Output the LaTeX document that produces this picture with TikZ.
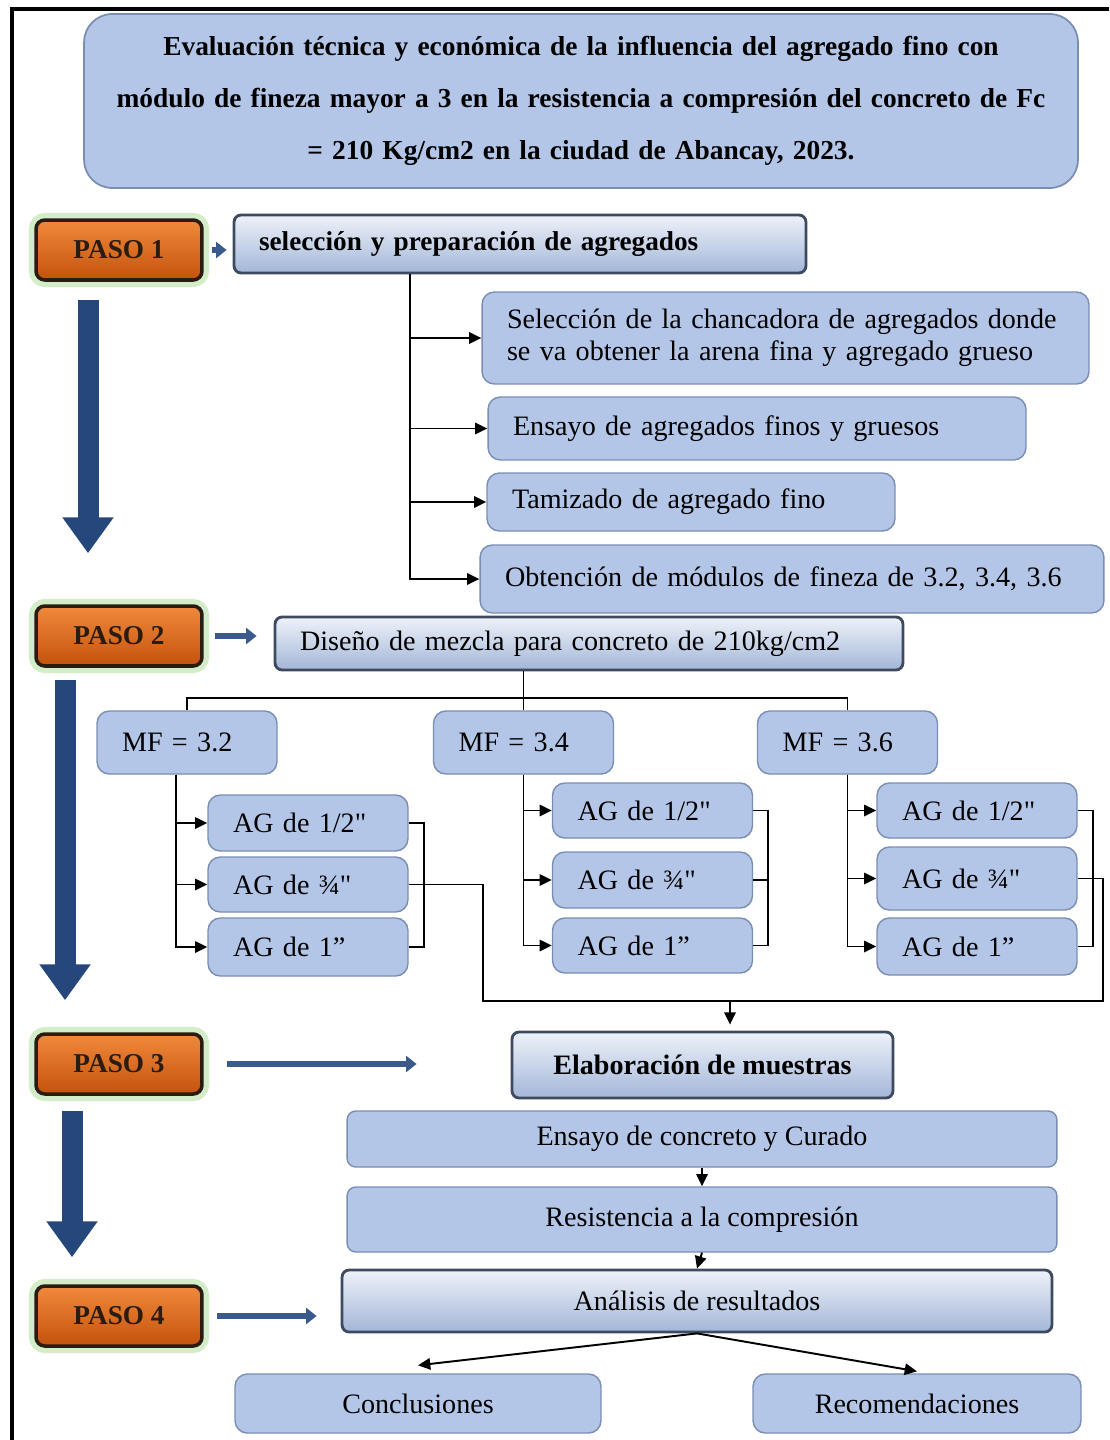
\documentclass[tikz,border=0pt]{standalone}
\usepackage{fontspec}
\setmainfont{Liberation Serif}
\usepackage{tikz}
\usetikzlibrary{arrows.meta,calc}

\definecolor{boxblue}{HTML}{B4C6E7}
\definecolor{boxedge}{HTML}{7A8DB3}
\definecolor{bevhi}{HTML}{EEF2F9}
\definecolor{bevlo}{HTML}{A3B6D8}
\definecolor{bevedge}{HTML}{3E4A60}
\definecolor{pasohi}{HTML}{F08A3C}
\definecolor{pasolo}{HTML}{C4520C}
\definecolor{pasoedge}{HTML}{2A1C10}
\definecolor{glow}{HTML}{D3EDC8}
\definecolor{navy}{HTML}{25477B}
\definecolor{navyline}{HTML}{3A5A8E}

\begin{document}
\begin{tikzpicture}[x=0.02cm,y=-0.02cm,
	flatbox/.style={draw=boxedge,fill=boxblue,rounded corners=7pt,line width=0.8pt,font=\fontsize{16}{18}\selectfont},
	leftbox/.style={flatbox,align=left,inner xsep=0.5cm},
	bevbox/.style={draw=bevedge,line width=1.6pt,rounded corners=4pt,top color=bevhi,bottom color=bevlo,font=\fontsize{16}{18}\selectfont},
	pasobox/.style={draw=pasoedge,line width=2pt,rounded corners=5pt,top color=pasohi,bottom color=pasolo,
		preaction={draw=glow,line width=8pt},minimum width=3.32cm,minimum height=1.2cm,
		text=pasoedge,font=\fontsize{15.5}{18}\selectfont\bfseries},
	line/.style={line width=1.1pt},
	conn/.style={line,-{Triangle[length=7pt,width=6.5pt]}},
	smallarrow/.style={navyline,line width=3pt,-{Triangle[length=6pt,width=9pt]}},
	bigarrow/.style={navy,line width=0.42cm,-{Triangle[length=0.72cm,width=0.98cm]}}
	]

	\useasboundingbox (0,0) rectangle (1109,1440);
	\draw[line width=2.8pt] (12,1440) -- (12,9) -- (1109,9);

	% titulo
	\node[draw=boxedge,fill=boxblue,rounded corners=16pt,line width=1pt,minimum width=19.88cm,minimum height=3.48cm,
		text width=19.4cm,align=center,font=\fontsize{15.6}{29.5}\selectfont\bfseries] (tit) at (581,101)
		{Evaluación técnica y económica de la influencia del agregado fino con\\
		 módulo de fineza mayor a 3 en la resistencia a compresión del concreto de Fc\\
		 = 210 Kg/cm2 en la ciudad de Abancay, 2023.};

	% pasos
	\node[pasobox] (p1) at (119,250) {PASO 1};
	\node[pasobox] (p2) at (119,636) {PASO 2};
	\node[pasobox] (p3) at (119,1064) {PASO 3};
	\node[pasobox] (p4) at (119,1316) {PASO 4};

	\draw[bigarrow] ([xshift=-0.62cm,yshift=-0.36cm]p1.south) -- ([xshift=-0.62cm,yshift=1.02cm]p2.north);
	\draw[bigarrow] ([xshift=-1.08cm,yshift=-0.24cm]p2.south) -- ([xshift=-1.08cm,yshift=0.64cm]p3.north);
	\draw[bigarrow] ([xshift=-0.94cm,yshift=-0.3cm]p3.south) -- ([xshift=-0.94cm,yshift=0.54cm]p4.north);

	% paso 1
	\node[bevbox,align=left,inner xsep=0.5cm,text width=10.44cm,minimum height=1.16cm,font=\fontsize{15.5}{18}\selectfont\bfseries] (sel) at (520,244) {selección y preparación de agregados};
	\node[leftbox,text width=11.14cm,minimum height=1.84cm] (s1) at (785.5,338)
		{Selección de la chancadora de agregados donde\\se va obtener la arena fina y agregado grueso};
	\node[leftbox,text width=9.76cm,minimum height=1.26cm] (s2) at (757,428.5) {Ensayo de agregados finos y gruesos};
	\node[leftbox,text width=7.16cm,minimum height=1.16cm] (s3) at (691,502) {Tamizado de agregado fino};
	\node[leftbox,text width=11.48cm,minimum height=1.36cm] (s4) at (792,579) {Obtención de módulos de fineza de 3.2, 3.4, 3.6};

	\coordinate (trunk) at (410,0);
	\draw[smallarrow,shorten <=0.16cm,shorten >=0.12cm] (p1.east) -- (p1.east -| sel.west);
	\foreach \s in {s1,s2,s3,s4}
		\draw[conn] (sel.south -| trunk) |- (\s.west);

	% paso 2
	\node[bevbox,align=left,inner xsep=0.5cm,text width=11.56cm,minimum height=1.06cm] (dis) at (589,643.5) {Diseño de mezcla para concreto de 210kg/cm2};
	\draw[smallarrow,shorten <=0.22cm,shorten >=0.34cm] (p2.east) -- (p2.east -| dis.west);

	\node[leftbox,text width=2.6cm,minimum height=1.26cm] (mf1) at (187,742.5) {MF = 3.2};
	\node[leftbox,text width=2.6cm,minimum height=1.26cm] (mf2) at (523.5,742.5) {MF = 3.4};
	\node[leftbox,text width=2.6cm,minimum height=1.26cm] (mf3) at (847.5,742.5) {MF = 3.6};

	\coordinate (bus) at (0,698);
	\draw[line] (mf2.north |- dis.south) -- (mf2.north);
	\draw[line] (mf1.north) -- (mf1.north |- bus) -- (mf3.north |- bus) -- (mf3.north);

	\node[leftbox,text width=3cm,minimum height=1.12cm] (ag11) at (308,823) {AG de 1/2\textquotedbl};
	\node[leftbox,text width=3cm,minimum height=1.1cm] (ag12) at (308,884.5) {AG de ¾\textquotedbl};
	\node[leftbox,text width=3cm,minimum height=1.16cm] (ag13) at (308,947) {AG de 1”};
	\node[leftbox,text width=3cm,minimum height=1.1cm] (ag21) at (652.5,810.5) {AG de 1/2\textquotedbl};
	\node[leftbox,text width=3cm,minimum height=1.12cm] (ag22) at (652.5,880) {AG de ¾\textquotedbl};
	\node[leftbox,text width=3cm,minimum height=1.1cm] (ag23) at (652.5,945.5) {AG de 1”};
	\node[leftbox,text width=3cm,minimum height=1.1cm] (ag31) at (977,810.5) {AG de 1/2\textquotedbl};
	\node[leftbox,text width=3cm,minimum height=1.26cm] (ag32) at (977,878.5) {AG de ¾\textquotedbl};
	\node[leftbox,text width=3cm,minimum height=1.14cm] (ag33) at (977,946.5) {AG de 1”};

	\foreach \g/\dx in {1/-0.22cm,2/0cm,3/0cm}{
		\foreach \a in {1,2,3}
			\draw[conn] ([xshift=\dx]mf\g.south) |- (ag\g\a.west);
		\draw[line] (ag\g1.east) -- ++(15,0) |- (ag\g3.east);
		\draw[line] (ag\g2.east) -- ++(15,0);
	}

	% paso 3
	\node[bevbox,minimum width=7.62cm,minimum height=1.32cm,font=\fontsize{16}{18}\selectfont\bfseries] (elab) at (702.5,1065) {Elaboración de muestras};
	\draw[smallarrow,shorten <=0.46cm,shorten >=1.88cm] (p3.east) -- (p3.east -| elab.west);

	\coordinate (g1out) at (483,1001);
	\coordinate (g3out) at (1103,1001);
	\coordinate (join) at (730,1001);
	\draw[line] (ag12.east) -| (g1out) -- (g3out) |- (ag32.east);
	\draw[conn] (join) -- ([yshift=0.12cm]join |- elab.north);

	\node[flatbox,rounded corners=5pt,minimum width=14.2cm,minimum height=1.12cm] (ens) at (702,1139) {Ensayo de concreto y Curado};
	\node[flatbox,rounded corners=5pt,minimum width=14.2cm,minimum height=1.3cm] (res) at (702,1219.5) {Resistencia a la compresión};

	% paso 4
	\node[bevbox,minimum width=14.2cm,minimum height=1.24cm] (ana) at (697,1301) {Análisis de resultados};
	\draw[smallarrow,shorten <=0.26cm,shorten >=0.48cm] (p4.east) -- (p4.east -| ana.west);

	\draw[conn] (ens.south) -- (res.north);
	\draw[conn] (res.south) -- (ana.north);

	\node[flatbox,minimum width=7.32cm,minimum height=1.18cm] (con) at (418,1403.5) {Conclusiones};
	\node[flatbox,minimum width=6.56cm,minimum height=1.18cm] (rec) at (917,1403.5) {Recomendaciones};

	\draw[conn] (ana.south) -- ([yshift=0.16cm]con.north);
	\draw[conn] (ana.south) -- ([yshift=0.04cm]rec.north);

\end{tikzpicture}
\end{document}
